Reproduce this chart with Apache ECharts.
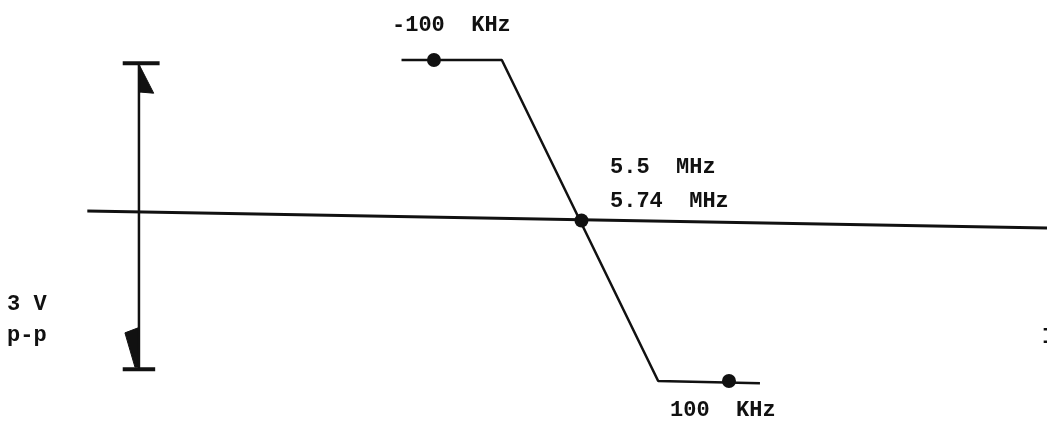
<!DOCTYPE html>
<html>
<head>
<meta charset="utf-8">
<script src="https://cdn.jsdelivr.net/npm/echarts@6/dist/echarts.min.js"></script>
<style>
  html, body { margin: 0; padding: 0; background: #fff; }
  #chart { width: 1047px; height: 425px; }
</style>
</head>
<body>
<div id="chart"></div>
<script>
// x in kHz away from the centre frequency, y in volts
var curveX = [-122, -54, 52, 121];
var curveY = [1.5, 1.5, -1.5, -1.52];

var dotX = [-100, 0, 100];
var dotY = [1.5, 0, -1.5];

var baseX = [-335, 316];
var baseY = [0.09, -0.07];

// the 3 V p-p measuring arrow
var spanX = [-300, -300];
var spanY = [1.47, -1.39];
var capTopX = [-311, -286];
var capBotX = [-311, -289];

var arrowTop = [[-300, 1.46], [-290, 1.19], [-298.5, 1.2], [-300, 1.2]];
var arrowBot = [[-300, -1.0], [-309.5, -1.05], [-302.7, -1.37], [-300, -1.37]];

var labelMinus = '-100  KHz';
var labelPlus = '100  KHz';
var labelCentre = '5.5  MHz\n5.74  MHz';
var labelAmp = '3 V\np-p';

function pairs(xs, ys) {
    var out = [];
    for (var i = 0; i < xs.length; i++) {
        out.push([xs[i], ys[i]]);
    }
    return out;
}

var ink = '#111';
var font = 'bold 22px "Liberation Mono"';

var option = {
    animation: false,
    backgroundColor: '#fff',
    grid: { left: 0, right: 0, top: 0, bottom: 0 },
    xAxis: { type: 'value', min: -394.2, max: 315.6, show: false },
    yAxis: { type: 'value', min: -1.911, max: 2.061, show: false },
    series: [{
        type: 'line',
        data: pairs(baseX, baseY),
        symbol: 'none',
        lineStyle: { color: ink, width: 3 }
    }, {
        type: 'line',
        data: pairs(curveX, curveY),
        symbol: 'none',
        lineStyle: { color: ink, width: 2.5 }
    }, {
        type: 'line',
        data: pairs(spanX, spanY),
        symbol: 'none',
        lineStyle: { color: ink, width: 2.5 }
    }, {
        type: 'line',
        data: pairs(capTopX, [spanY[0], spanY[0]]),
        symbol: 'none',
        lineStyle: { color: ink, width: 4 }
    }, {
        type: 'line',
        data: pairs(capBotX, [spanY[1], spanY[1]]),
        symbol: 'none',
        lineStyle: { color: ink, width: 4 }
    }, {
        type: 'custom',
        data: [arrowTop[0], arrowBot[0]],
        renderItem: function (params, api) {
            var shape = params.dataIndex == 0 ? arrowTop : arrowBot;
            var pts = shape.map(function (p) { return api.coord(p); });
            return {
                type: 'polygon',
                shape: { points: pts },
                style: { fill: ink, stroke: ink, lineWidth: 1 }
            };
        }
    }, {
        type: 'scatter',
        data: pairs(dotX, dotY),
        symbol: 'circle',
        symbolSize: 14,
        itemStyle: { color: ink, opacity: 1 }
    }],
    graphic: [
        { type: 'text', x: 392, y: 25, style: { text: labelMinus, font: font, fill: ink, verticalAlign: 'middle' } },
        { type: 'text', x: 610, y: 150, style: { text: labelCentre, font: font, fill: ink, lineHeight: 34, verticalAlign: 'top' } },
        { type: 'text', x: 670, y: 410, style: { text: labelPlus, font: font, fill: ink, verticalAlign: 'middle' } },
        { type: 'text', x: 7, y: 289, style: { text: labelAmp, font: font, fill: ink, lineHeight: 31, verticalAlign: 'top' } },
        { type: 'text', x: 1042, y: 337, style: { text: 'I', font: font, fill: ink, verticalAlign: 'middle' } }
    ]
};

var chart = echarts.init(document.getElementById('chart'));
chart.setOption(option);
</script>
</body>
</html>
